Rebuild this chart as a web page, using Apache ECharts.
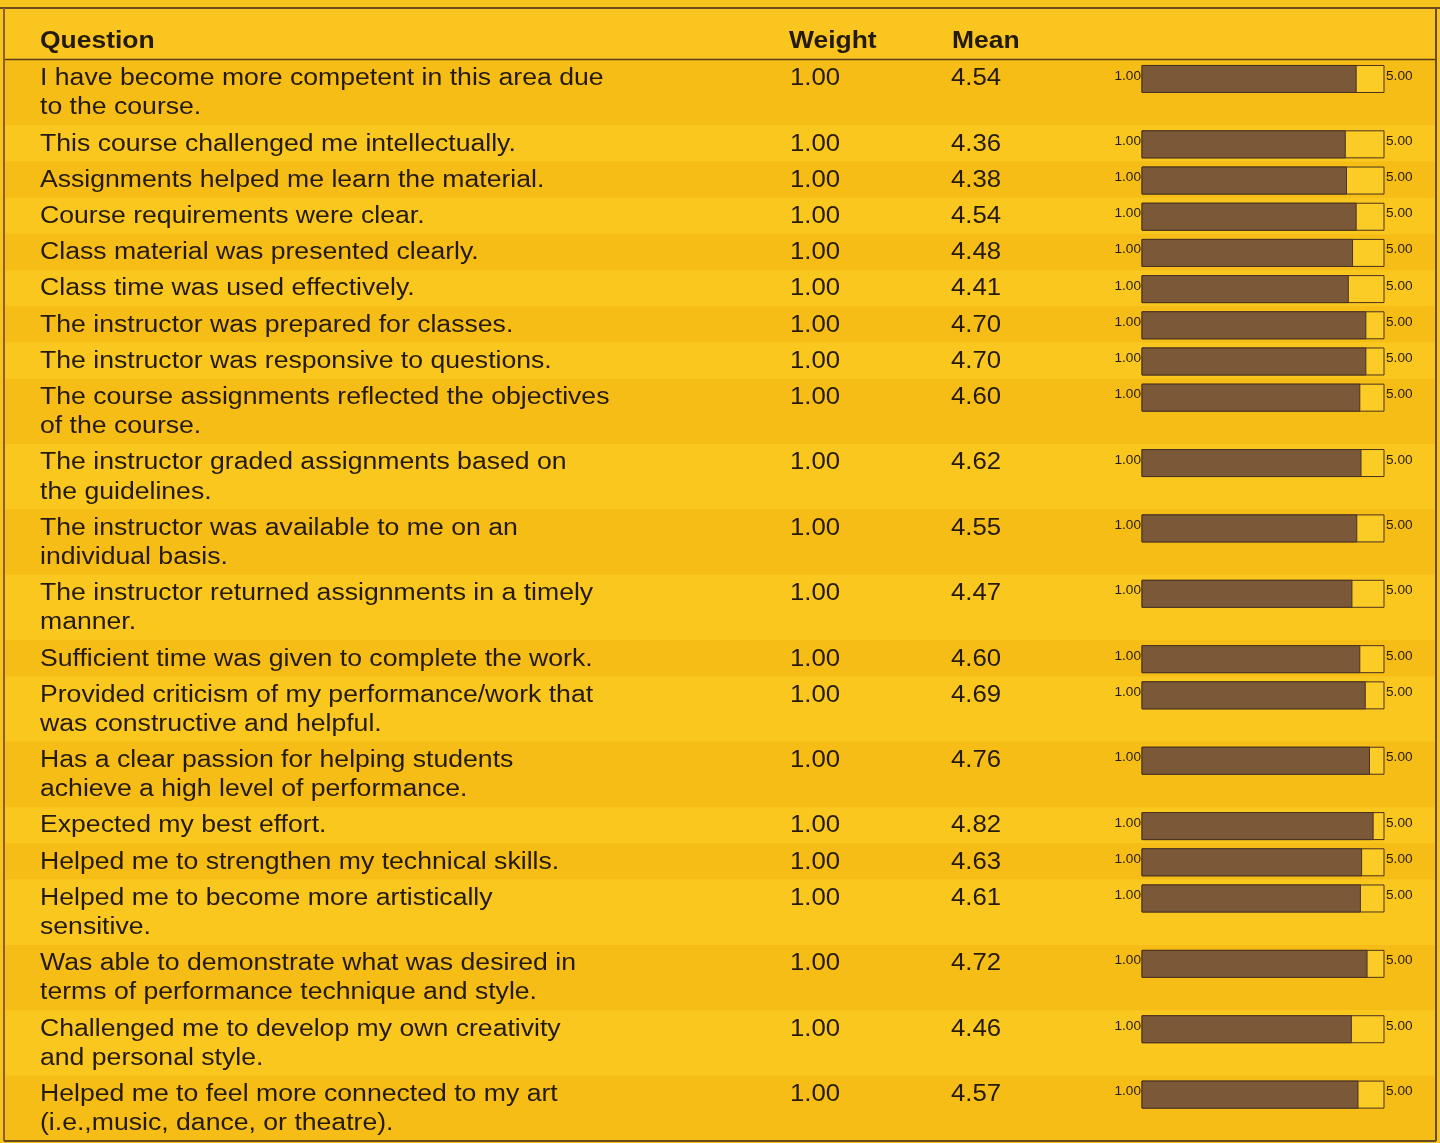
<!DOCTYPE html>
<html>
<head>
<meta charset="utf-8">
<script src="https://cdn.jsdelivr.net/npm/echarts@6/dist/echarts.min.js"></script>
<style>
html,body{margin:0;padding:0;background:#F8C31B;}
#chart{width:1440px;height:1143px;}
</style>
</head>
<body>
<div id="chart"></div>
<script>
// ---- data ----
const headers = ['Question', 'Weight', 'Mean'];
const questions = [
  'I have become more competent in this area due\nto the course.',
  'This course challenged me intellectually.',
  'Assignments helped me learn the material.',
  'Course requirements were clear.',
  'Class material was presented clearly.',
  'Class time was used effectively.',
  'The instructor was prepared for classes.',
  'The instructor was responsive to questions.',
  'The course assignments reflected the objectives\nof the course.',
  'The instructor graded assignments based on\nthe guidelines.',
  'The instructor was available to me on an\nindividual basis.',
  'The instructor returned assignments in a timely\nmanner.',
  'Sufficient time was given to complete the work.',
  'Provided criticism of my performance/work that\nwas constructive and helpful.',
  'Has a clear passion for helping students\nachieve a high level of performance.',
  'Expected my best effort.',
  'Helped me to strengthen my technical skills.',
  'Helped me to become more artistically\nsensitive.',
  'Was able to demonstrate what was desired in\nterms of performance technique and style.',
  'Challenged me to develop my own creativity\nand personal style.',
  'Helped me to feel more connected to my art\n(i.e.,music, dance, or theatre).'
];
const weights = [1.00,1.00,1.00,1.00,1.00,1.00,1.00,1.00,1.00,1.00,1.00,1.00,1.00,1.00,1.00,1.00,1.00,1.00,1.00,1.00,1.00];
const means = [4.54,4.36,4.38,4.54,4.48,4.41,4.70,4.70,4.60,4.62,4.55,4.47,4.60,4.69,4.76,4.82,4.63,4.61,4.72,4.46,4.57];
const scaleMin = 1;
const scaleMax = 5;
const scaleLabels = ['1.00', '5.00'];

// ---- layout (in line units) ----
const PAD = 0.24;
const lineCounts = questions.map(q => q.split('\n').length);
const rowHeights = lineCounts.map(n => n + PAD);
const rowTops = [];
let acc = 0;
rowHeights.forEach(h => { rowTops.push(acc); acc += h; });
const TOTAL = acc;

const FONT = '"Liberation Sans", Arial, Helvetica, sans-serif';
const TXT = '#241a10';
const BAND_A = '#F6BD16';
const BAND_B = '#FAC71E';
const BAR_FILL = '#7A5838';
const BAR_EMPTY = '#FCCC26';
const BAR_EDGE = '#4A3220';
const COL_Q = 40, COL_W = 790, COL_M = 951;
const BODY_SX = 1.157;

function txt(text, x, y, size, align, sx, bold) {
  return {
    type: 'text', x: x, y: y, scaleX: sx,
    style: { text: text, x: 0, y: 0, font: (bold ? 'bold ' : '') + size + 'px ' + FONT, fill: TXT, align: align, verticalAlign: 'middle' }
  };
}

function renderItem(params, api) {
  const i = api.value(0);
  const top = rowTops[i];
  const h = rowHeights[i];
  const pTop = api.coord([scaleMin, top])[1];
  const pBot = api.coord([scaleMin, top + h])[1];
  const unit = api.size([0, 1])[1];
  const line1 = api.coord([scaleMin, top + 0.65])[1];
  const x1 = api.coord([scaleMin, 0])[0];
  const x5 = api.coord([scaleMax, 0])[0];
  const xm = api.coord([api.value(1), 0])[0];
  const barH = 27;
  const children = [];
  children.push({
    type: 'rect', silent: true,
    shape: { x: 5, y: pTop, width: 1430, height: pBot - pTop },
    style: { fill: i % 2 === 0 ? BAND_A : BAND_B }
  });
  questions[i].split('\n').forEach((ln, k) => {
    children.push(txt(ln, COL_Q, line1 + k * unit, 23, 'left', BODY_SX));
  });
  children.push(txt(weights[i].toFixed(2), COL_W, line1, 23, 'left', 1.12));
  children.push(txt(api.value(1).toFixed(2), COL_M, line1, 23, 'left', 1.12));
  children.push({
    type: 'rect',
    shape: { x: x1, y: line1 - barH / 2, width: x5 - x1, height: barH },
    style: { fill: BAR_EMPTY, stroke: BAR_EDGE, lineWidth: 1 }
  });
  children.push({
    type: 'rect',
    shape: { x: x1, y: line1 - barH / 2, width: xm - x1, height: barH },
    style: { fill: BAR_FILL, stroke: BAR_EDGE, lineWidth: 1 }
  });
  children.push(txt(scaleLabels[0], x1 - 1, line1 - 3, 13, 'right', 1.05));
  children.push(txt(scaleLabels[1], x5 + 2, line1 - 3, 13, 'left', 1.05));
  return { type: 'group', children };
}

const chart = echarts.init(document.getElementById('chart'), null, { renderer: 'canvas' });
chart.setOption({
  backgroundColor: '#F8C31B',
  animation: false,
  grid: { left: 1142, right: 56, top: 60, height: 1081 },
  xAxis: { type: 'value', min: scaleMin, max: scaleMax, show: false },
  yAxis: { type: 'value', min: 0, max: TOTAL, inverse: true, show: false },
  graphic: [
    { type: 'rect', z: -1, shape: { x: 5, y: 9, width: 1430, height: 51 }, style: { fill: '#F9C51E' } },
    Object.assign(txt(headers[0], COL_Q, 42, 23, 'left', 1.15, true), { z: 10 }),
    Object.assign(txt(headers[1], 789, 42, 23, 'left', 1.15, true), { z: 10 }),
    Object.assign(txt(headers[2], 952, 42, 23, 'left', 1.15, true), { z: 10 }),
    { type: 'line', z: 20, shape: { x1: 0, y1: 8, x2: 1440, y2: 8 }, style: { stroke: '#6A4A22', lineWidth: 2 } },
    { type: 'line', z: 20, shape: { x1: 4, y1: 59.5, x2: 1436, y2: 59.5 }, style: { stroke: '#5A3E1E', lineWidth: 1.5 } },
    { type: 'line', z: 20, shape: { x1: 4, y1: 8, x2: 4, y2: 1141 }, style: { stroke: '#8A6024', lineWidth: 2 } },
    { type: 'line', z: 20, shape: { x1: 1436, y1: 8, x2: 1436, y2: 1141 }, style: { stroke: '#6A4A22', lineWidth: 2 } },
    { type: 'line', z: 20, shape: { x1: 4, y1: 1141, x2: 1436, y2: 1141 }, style: { stroke: '#6A4A22', lineWidth: 2 } }
  ],
  series: [{
    type: 'custom',
    renderItem: renderItem,
    clip: false,
    encode: { x: 1, y: 0 },
    data: means.map((m, i) => [i, m])
  }]
});
</script>
</body>
</html>
